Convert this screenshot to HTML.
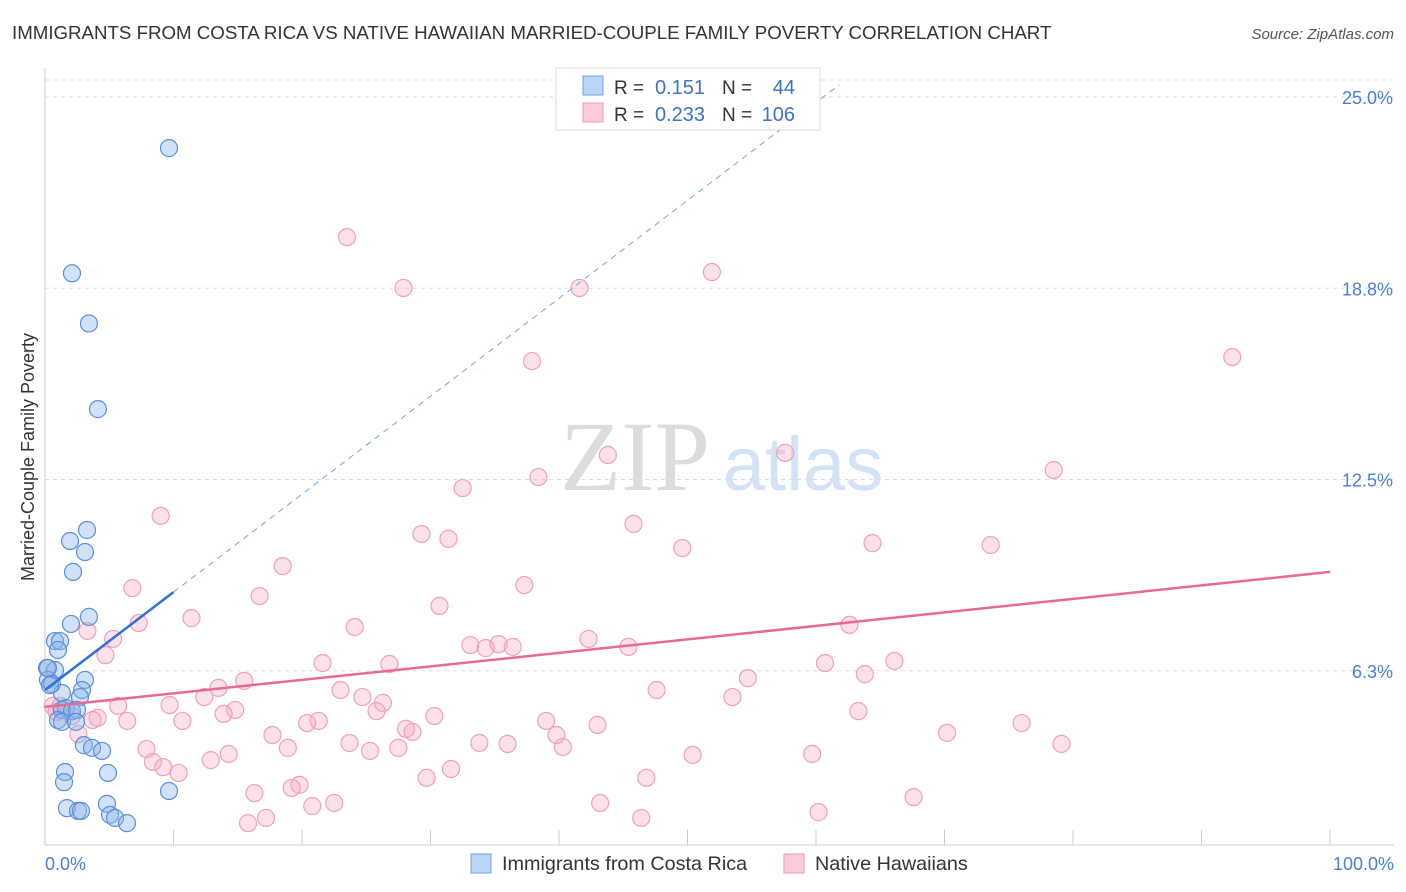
<!DOCTYPE html>
<html><head><meta charset="utf-8">
<style>
body{margin:0;background:#fff;font-family:"Liberation Sans",sans-serif;}
#wrap{position:relative;width:1406px;height:892px;overflow:hidden;}
</style></head>
<body>
<div id="wrap">
<svg id="svg" width="1406" height="892" xmlns="http://www.w3.org/2000/svg"></svg>
</div>
<script>
const blueX=[9.65,2.1,3.42,4.12,3.27,1.95,3.11,2.18,3.42,2.02,0.78,1.17,1.01,0.16,0.78,0.23,0.54,3.11,1.32,2.88,2.72,1.63,1.32,2.1,2.49,1.01,1.32,2.41,3.03,3.66,4.44,1.56,4.9,1.48,1.71,2.57,2.8,4.82,5.06,5.45,6.38,9.65,0.23,0.39];
const blueY=[23.33,19.24,17.6,14.8,10.85,10.49,10.13,9.48,8.01,7.78,7.22,7.22,6.93,6.34,6.27,5.95,5.82,5.95,5.52,5.62,5.39,5.03,4.97,4.93,4.97,4.64,4.58,4.58,3.82,3.73,3.63,2.94,2.91,2.61,1.76,1.67,1.67,1.9,1.54,1.44,1.27,2.32,6.34,5.78];
const pinkX=[23.5,27.9,41.6,51.9,37.9,92.4,43.8,57.6,38.4,32.5,78.5,9.0,45.8,29.3,31.4,64.4,49.6,73.6,18.5,6.8,37.3,16.7,30.7,11.4,7.3,3.3,24.1,5.3,62.6,42.3,33.1,34.3,35.3,36.4,45.4,4.7,21.6,26.8,60.7,66.1,63.8,15.5,13.5,54.7,23.0,47.6,24.7,12.4,26.3,53.5,9.7,5.7,0.6,25.8,14.8,13.9,63.3,4.1,3.7,6.4,10.7,20.4,21.3,30.3,39.0,43.0,76.0,28.1,28.6,39.8,17.7,70.2,2.6,23.7,33.8,36.0,40.3,18.9,7.9,25.3,27.5,79.1,14.3,12.9,50.4,59.7,8.4,9.2,10.4,31.6,29.7,46.8,19.8,19.2,16.3,67.6,43.2,22.5,20.8,17.2,15.8,46.4,60.2,1.2,2.1,0.9];
const pinkY=[20.42,18.76,18.76,19.28,16.37,16.5,13.3,13.37,12.58,12.22,12.81,11.31,11.05,10.72,10.56,10.42,10.26,10.36,9.67,8.95,9.05,8.69,8.37,7.97,7.81,7.55,7.68,7.29,7.75,7.29,7.09,6.99,7.12,7.03,7.03,6.76,6.5,6.47,6.5,6.57,6.14,5.92,5.69,6.01,5.62,5.62,5.39,5.39,5.2,5.39,5.13,5.1,5.1,4.93,4.97,4.84,4.93,4.71,4.64,4.61,4.61,4.54,4.61,4.77,4.61,4.48,4.54,4.35,4.25,4.15,4.15,4.22,4.18,3.89,3.89,3.86,3.76,3.73,3.69,3.63,3.73,3.86,3.53,3.33,3.5,3.53,3.27,3.1,2.91,3.04,2.75,2.75,2.52,2.42,2.25,2.12,1.93,1.93,1.83,1.44,1.27,1.44,1.63,5.1,4.77,4.9];
const yTicks=[25,18.75,12.5,6.25];
const yTickLabels=["25.0%","18.8%","12.5%","6.3%"];
const blueTrend=[5.62,0.32];
const pinkTrend=[5.07,0.0441];

const NS="http://www.w3.org/2000/svg";
const svg=document.getElementById('svg');
const X0=45,X1=1330,Y0=862,YS=30.6;
const sx=v=>X0+(X1-X0)*v/100;
const sy=v=>Y0-v*YS;
function mk(tag,attrs,parent){const e=document.createElementNS(NS,tag);for(const k in attrs)e.setAttribute(k,attrs[k]);(parent||svg).appendChild(e);return e;}

let t=mk('text',{x:12,y:39,'font-size':18.7,fill:'#333'});t.textContent="IMMIGRANTS FROM COSTA RICA VS NATIVE HAWAIIAN MARRIED-COUPLE FAMILY POVERTY CORRELATION CHART";


t=mk('text',{x:1394,y:39,'font-size':15,fill:'#555','text-anchor':'end','font-style':'italic'});t.textContent="Source: ZipAtlas.com";



t=mk('text',{x:635,y:490,'font-size':100,fill:'#dcdcdc','text-anchor':'middle','font-family':'Liberation Serif, serif'});t.textContent="ZIP";


t=mk('text',{x:803,y:490,'font-size':76,fill:'#d3e2f5','text-anchor':'middle'});t.textContent="atlas";



let g=mk('line',{x1:45,x2:1394,y1:80,y2:80,stroke:'#ddd','stroke-dasharray':'4,4'});


yTicks.forEach((v,i)=>{
  const l=mk('line',{x1:45,x2:1394,y1:sy(v),y2:sy(v),stroke:'#ddd','stroke-dasharray':'4,4'});
  
  
  const tx=mk('text',{x:1393,y:sy(v)+7,'font-size':18,fill:'#4a7fd4','text-anchor':'end'});tx.textContent=yTickLabels[i];
  
  
});
let a=mk('line',{x1:45,x2:45,y1:68,y2:845,stroke:'#ccc'});


a=mk('line',{x1:45,x2:1394,y1:845,y2:845,stroke:'#ccc'});


for(let i=1;i<=10;i++){const l=mk('line',{x1:sx(i*10),x2:sx(i*10),y1:830,y2:845,stroke:'#ccc'});
  
  }
t=mk('text',{x:45,y:870,'font-size':18,fill:'#4a7fd4'});t.textContent="0.0%";


t=mk('text',{x:1394,y:870,'font-size':18,fill:'#4a7fd4','text-anchor':'end'});t.textContent="100.0%";


t=mk('text',{x:34,y:457,'font-size':18,fill:'#333','text-anchor':'middle',transform:'rotate(-90 34 457)'});t.textContent="Married-Couple Family Poverty";



pinkX.forEach((v,i)=>{const c=mk('circle',{cx:sx(v),cy:sy(pinkY[i]),r:8.5,fill:'rgba(246,170,195,0.35)',stroke:'#f0a0b9','stroke-width':1.2});
  
  });
blueX.forEach((v,i)=>{const c=mk('circle',{cx:sx(v),cy:sy(blueY[i]),r:8.5,fill:'rgba(140,180,235,0.4)',stroke:'#5b8fd9','stroke-width':1.2});
  
  });

const bEnd=(25.4-blueTrend[0])/blueTrend[1];
let tl=mk('line',{x1:sx(10),y1:sy(blueTrend[0]+blueTrend[1]*10),x2:sx(bEnd),y2:sy(25.4),stroke:'#7aa3e0','stroke-width':1,'stroke-dasharray':'6,5'});


tl=mk('line',{x1:sx(0),y1:sy(blueTrend[0]),x2:sx(10),y2:sy(blueTrend[0]+blueTrend[1]*10),stroke:'#2f6fd6','stroke-width':2.5});


tl=mk('line',{x1:sx(0),y1:sy(pinkTrend[0]),x2:sx(100),y2:sy(pinkTrend[0]+pinkTrend[1]*100),stroke:'#e86a94','stroke-width':2.5});



let lg=mk('g',{});


mk('rect',{x:556,y:68,width:264,height:62,fill:'#fff',stroke:'#ddd'},lg);
mk('rect',{x:583,y:76,width:20,height:19,fill:'#bcd4f5',stroke:'#6f9fe0'},lg);
mk('rect',{x:583,y:103,width:20,height:19,fill:'#fbcbdb',stroke:'#f09ab6'},lg);
[[94,'0.151','44'],[121,'0.233','106']].forEach(r=>{
  let a=mk('text',{x:614,y:r[0],'font-size':19,fill:'#333'},lg);a.textContent='R = ';
  a=mk('text',{x:705,y:r[0],'font-size':20,fill:'#3b73cf','text-anchor':'end'},lg);a.textContent=r[1];
  a=mk('text',{x:722,y:r[0],'font-size':19,fill:'#333'},lg);a.textContent='N = ';
  a=mk('text',{x:795,y:r[0],'font-size':20,fill:'#3b73cf','text-anchor':'end'},lg);a.textContent=r[2];
});

let bl=mk('g',{});


mk('rect',{x:471,y:854,width:20,height:19,fill:'#bcd4f5',stroke:'#6f9fe0'},bl);
t=mk('text',{x:502,y:870,'font-size':19.8,fill:'#333'},bl);t.textContent="Immigrants from Costa Rica";


mk('rect',{x:784,y:854,width:20,height:19,fill:'#fbcbdb',stroke:'#f09ab6'},bl);
t=mk('text',{x:815,y:870,'font-size':19.8,fill:'#333'},bl);t.textContent="Native Hawaiians";


</script>
</body></html>
